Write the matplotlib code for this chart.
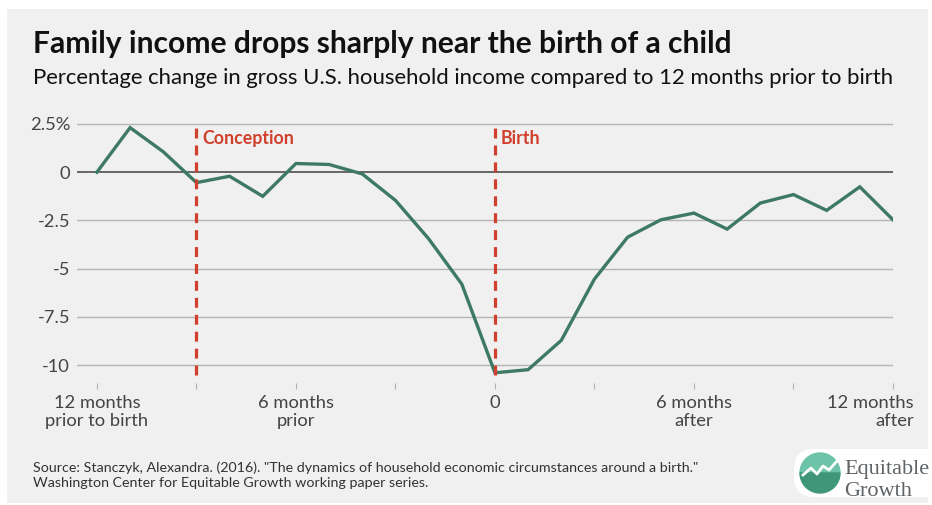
import numpy as np
import matplotlib
matplotlib.use('Agg')
import matplotlib.pyplot as plt
from matplotlib.patches import Rectangle, FancyBboxPatch, Wedge

# ── Data ──────────────────────────────────────────────────────────────────────
months = list(range(-12, 13))
pct_change = [0.0, 2.31, 1.06, -0.54, -0.21, -1.25, 0.45, 0.40, -0.09, -1.46,
              -3.45, -5.80, -10.40, -10.24, -8.72, -5.54, -3.37, -2.47, -2.12,
              -2.95, -1.60, -1.16, -1.98, -0.76, -2.47]
events = [(-9, 'Conception'), (0, 'Birth')]
y_ticks = [2.5, 0, -2.5, -5, -7.5, -10]
y_labels = ['2.5%', '0', '-2.5', '-5', '-7.5', '-10']
x_ticks = [-12, -9, -6, -3, 0, 3, 6, 9, 12]
x_labels = {-12: '12 months\nprior to birth', -6: '6 months\nprior', 0: '0',
            6: '6 months\nafter', 12: '12 months\nafter'}

TITLE = 'Family income drops sharply near the birth of a child'
SUBTITLE = 'Percentage change in gross U.S. household income compared to 12 months prior to birth'
SOURCE = ('Source: Stanczyk, Alexandra. (2016). "The dynamics of household economic '
          'circumstances around a birth."\n'
          'Washington Center for Equitable Growth working paper series.')

W, H = 932, 505
BG = '#f0f0f0'
GREEN = '#3e7a63'
RED = '#d0402c'
TXT = '#444444'

plt.rcParams['font.family'] = ['Lato', 'DejaVu Sans']

def px(x, y):
    return x / W, 1 - y / H

fig = plt.figure(figsize=(W / 100, H / 100), dpi=100)
fig.patch.set_facecolor('white')
fig.patches.append(Rectangle(px(7, 503), 921 / W, 494 / H, transform=fig.transFigure,
                             facecolor=BG, edgecolor='none', zorder=-10))

fig.text(*px(33, 53), TITLE, fontsize=21.6, fontweight='bold', color='#111111',
         ha='left', va='baseline')
fig.text(*px(33, 84), SUBTITLE, fontsize=15.9, color='#111111',
         ha='left', va='baseline')

# ── Axes ──────────────────────────────────────────────────────────────────────
l, r, t, b = 77, 893, 118, 383
ax = fig.add_axes([l / W, 1 - b / H, (r - l) / W, (b - t) / H])
ax.set_facecolor('none')
ax.set_xlim(-12.6, 12)
ax.set_ylim(-10.93, 2.81)
for s in ax.spines.values():
    s.set_visible(False)

for yv in y_ticks:
    ax.axhline(yv, color='#666666' if yv == 0 else '#b4b4b4',
               lw=1.4 if yv == 0 else 1.0, zorder=1)

ax.plot(months, pct_change, color=GREEN, lw=2.4, solid_joinstyle='miter', zorder=3)

for xv, name in events:
    ax.plot([xv, xv], [-10.52, 2.62], color=RED, lw=2.3,
            linestyle=(0, (3.1, 2.2)), zorder=4)
    ax.text(xv + 0.18, 1.75, name, color=RED, fontsize=12.8, fontweight='bold',
            ha='left', va='center')

ax.set_yticks(y_ticks)
ax.set_yticklabels(y_labels)
ax.tick_params(axis='y', length=0, pad=5, labelsize=13.2, labelcolor=TXT)

ax.set_xticks(x_ticks)
ax.set_xticklabels([])
ax.tick_params(axis='x', length=4, width=0.8, color='#b0b0b0', direction='out')

for xv, lab in x_labels.items():
    if xv == 12:
        ax.annotate(lab, xy=(xv, 0), xycoords=('data', 'axes fraction'),
                    xytext=(15, -9), textcoords='offset points', ha='right',
                    va='top', multialignment='right', fontsize=13.2,
                    color=TXT, linespacing=1.1)
    else:
        ax.annotate(lab, xy=(xv, 0), xycoords=('data', 'axes fraction'),
                    xytext=(0, -9), textcoords='offset points', ha='center',
                    va='top', multialignment='center', fontsize=13.2,
                    color=TXT, linespacing=1.1)

# ── Source ────────────────────────────────────────────────────────────────────
fig.text(*px(33, 461), SOURCE, fontsize=10.25, color='#333333', ha='left', va='top',
         linespacing=1.3)

# ── Logo (pixel coordinates inside its own axes) ──────────────────────────────
lx0, ly0 = 786, 442
lax = fig.add_axes([lx0 / W, 1 - 505 / H, (W - lx0) / W, (505 - ly0) / H])
lax.set_xlim(lx0, W)
lax.set_ylim(505, ly0)
lax.axis('off')
lax.add_patch(FancyBboxPatch((794, 449), 160, 48,
                             boxstyle='round,pad=0,rounding_size=20',
                             facecolor='white', edgecolor='none'))
cx, cy, rad = 820, 473, 20
lax.add_patch(Wedge((cx, cy), rad, 180, 360, color='#6cc3a8'))
lax.add_patch(Wedge((cx, cy), rad, 0, 180, color='#3f9679'))
lax.plot([cx - 17, cx - 9, cx - 3, cx + 3, cx + 9, cx + 17],
         [cy + 2, cy - 5, cy + 1, cy - 7, cy - 3, cy - 12],
         color='white', lw=2)
lax.text(844, 474, 'Equitable', family=['Liberation Serif', 'DejaVu Serif'],
         fontsize=16, color='#5f6366', ha='left', va='baseline')
lax.text(844, 496, 'Growth', family=['Liberation Serif', 'DejaVu Serif'],
         fontsize=16, color='#5f6366', ha='left', va='baseline')

fig.savefig('out.png', dpi=100, facecolor=fig.get_facecolor())
